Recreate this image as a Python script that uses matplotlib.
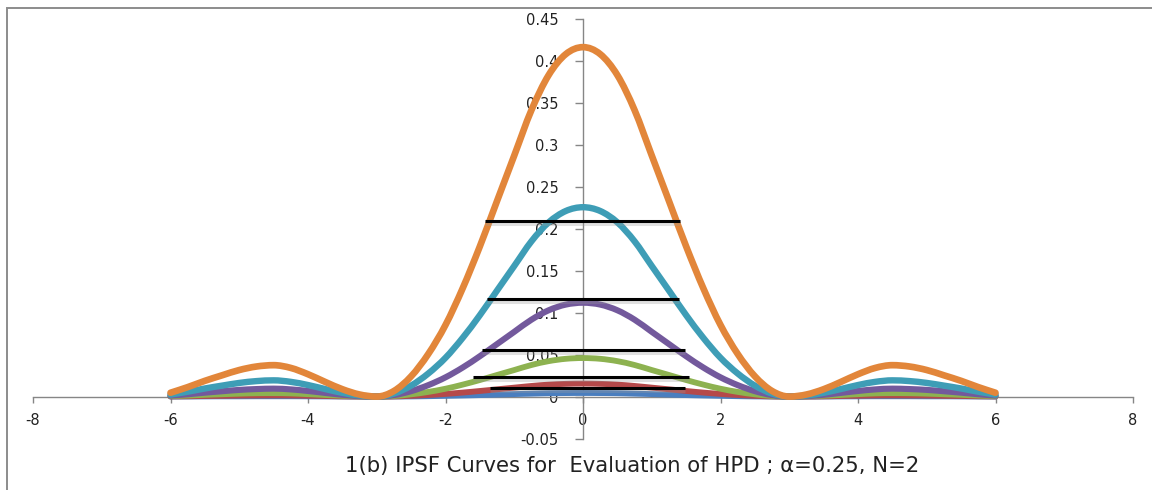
import numpy as np
import matplotlib
matplotlib.use("Agg")
import matplotlib.pyplot as plt
from matplotlib.path import Path
from matplotlib.patches import PathPatch, Rectangle
import matplotlib.patheffects as pe

# ---------------- data ----------------
x_vals = [-6, -5.75, -5.5, -5.25, -5, -4.75, -4.5, -4.25, -4, -3.75, -3.5, -3.25,
          -3, -2.75, -2.5, -2.25, -2, -1.75, -1.5, -1.25, -1, -0.75, -0.5, -0.25,
          0, 0.25, 0.5, 0.75, 1, 1.25, 1.5, 1.75, 2, 2.25, 2.5, 2.75,
          3, 3.25, 3.5, 3.75, 4, 4.25, 4.5, 4.75, 5, 5.25, 5.5, 5.75, 6]

blue = [0.0000, 0.0001, 0.0002, 0.0003, 0.0003, 0.0004, 0.0004, 0.0004, 0.0003, 0.0002, 0.0001, 0.0000,
        0, 0.0001, 0.0002, 0.0005, 0.0009, 0.0013, 0.0018, 0.0024, 0.0030, 0.0035, 0.0040, 0.0042,
        0.0043,
        0.0042, 0.0040, 0.0035, 0.0030, 0.0024, 0.0018, 0.0013, 0.0009, 0.0005, 0.0002, 0.0001, 0,
        0.0000, 0.0001, 0.0002, 0.0003, 0.0004, 0.0004, 0.0004, 0.0003, 0.0003, 0.0002, 0.0001, 0.0000]
red = [0.0002, 0.0004, 0.0007, 0.0009, 0.0012, 0.0013, 0.0014, 0.0013, 0.0010, 0.0007, 0.0003, 0.0001,
       0, 0.0002, 0.0009, 0.0019, 0.0032, 0.0048, 0.0067, 0.0087, 0.0107, 0.0127, 0.0143, 0.0152,
       0.0155,
       0.0152, 0.0143, 0.0127, 0.0107, 0.0087, 0.0067, 0.0048, 0.0032, 0.0019, 0.0009, 0.0002, 0,
       0.0001, 0.0003, 0.0007, 0.0010, 0.0013, 0.0014, 0.0013, 0.0012, 0.0009, 0.0007, 0.0004, 0.0002]
green = [0.0005, 0.0012, 0.0021, 0.0028, 0.0035, 0.0040, 0.0041, 0.0038, 0.0029, 0.0019, 0.0010, 0.0003,
         0, 0.0007, 0.0027, 0.0056, 0.0094, 0.0143, 0.0198, 0.0258, 0.0317, 0.0377, 0.0423, 0.0451,
         0.0460,
         0.0451, 0.0423, 0.0377, 0.0317, 0.0258, 0.0198, 0.0143, 0.0094, 0.0056, 0.0027, 0.0007, 0,
         0.0003, 0.0010, 0.0019, 0.0029, 0.0038, 0.0041, 0.0040, 0.0035, 0.0028, 0.0021, 0.0012, 0.0005]
purple = [0.0012, 0.0028, 0.0047, 0.0064, 0.0080, 0.0090, 0.0095, 0.0086, 0.0067, 0.0044, 0.0022, 0.0006,
          0, 0.0018, 0.0065, 0.0137, 0.0230, 0.0347, 0.0482, 0.0627, 0.0773, 0.0918, 0.1030, 0.1098,
          0.1120,
          0.1098, 0.1030, 0.0918, 0.0773, 0.0627, 0.0482, 0.0347, 0.0230, 0.0137, 0.0065, 0.0018, 0,
          0.0006, 0.0022, 0.0044, 0.0067, 0.0086, 0.0095, 0.0090, 0.0080, 0.0064, 0.0047, 0.0028, 0.0012]
teal = [0.0024, 0.0058, 0.0097, 0.0131, 0.0163, 0.0185, 0.0194, 0.0176, 0.0138, 0.0090, 0.0045, 0.0013,
        0, 0.0036, 0.0131, 0.0276, 0.0463, 0.0701, 0.0972, 0.1266, 0.1559, 0.1853, 0.2079, 0.2215,
        0.2260,
        0.2215, 0.2079, 0.1853, 0.1559, 0.1266, 0.0972, 0.0701, 0.0463, 0.0276, 0.0131, 0.0036, 0,
        0.0013, 0.0045, 0.0090, 0.0138, 0.0176, 0.0194, 0.0185, 0.0163, 0.0131, 0.0097, 0.0058, 0.0024]
orange = [0.0046, 0.0113, 0.0188, 0.0254, 0.0317, 0.0359, 0.0375, 0.0342, 0.0267, 0.0175, 0.0088, 0.0025,
          0, 0.0067, 0.0242, 0.0509, 0.0855, 0.1293, 0.1793, 0.2335, 0.2877, 0.3419, 0.3836, 0.4087,
          0.4170,
          0.4087, 0.3836, 0.3419, 0.2877, 0.2335, 0.1793, 0.1293, 0.0855, 0.0509, 0.0242, 0.0067, 0,
          0.0025, 0.0088, 0.0175, 0.0267, 0.0342, 0.0375, 0.0359, 0.0317, 0.0254, 0.0188, 0.0113, 0.0046]

# HPD horizontal lines
hpd_level = [0.2095, 0.1166, 0.0553, 0.0230, 0.0104]
hpd_left = [-1.43, -1.40, -1.47, -1.60, -1.35]
hpd_right = [1.41, 1.40, 1.48, 1.54, 1.48]

x_ticks = [-8, -6, -4, -2, 0, 2, 4, 6, 8]
y_ticks = [-0.05, 0, 0.05, 0.1, 0.15, 0.2, 0.25, 0.3, 0.35, 0.4, 0.45]
y_tick_labels = ["-0.05", "0", "0.05", "0.1", "0.15", "0.2", "0.25", "0.3", "0.35", "0.4", "0.45"]
title = "1(b) IPSF Curves for  Evaluation of HPD ; \u03b1=0.25, N=2"

series = [
    (blue, "#4A7EBF", 4.2),
    (red, "#B5494A", 4.2),
    (green, "#8DB250", 4.2),
    (purple, "#73599C", 4.4),
    (teal, "#3E9DB6", 4.6),
    (orange, "#E2863A", 4.8),
]

# ---------------- figure ----------------
W, H = 1152, 490
fig = plt.figure(figsize=(W / 100, H / 100), dpi=100)
fig.patch.set_facecolor("white")

# chart frame (Excel style, only left and top visible)
fig.patches.append(Rectangle((7 / W, -0.05), 1.2, (1 - 8.5 / H) + 0.05,
                             transform=fig.transFigure, fill=False,
                             edgecolor="#8C8C8C", linewidth=1.4, zorder=0))

ax = fig.add_axes([33 / W, (H - 438.5) / H, 1100 / W, 419 / H])
ax.set_xlim(-8, 8)
ax.set_ylim(-0.05, 0.45)
ax.patch.set_alpha(0)

for s in ["top", "right"]:
    ax.spines[s].set_visible(False)
ax.spines["left"].set_position(("data", 0))
ax.spines["bottom"].set_position(("data", 0))
for s in ["left", "bottom"]:
    ax.spines[s].set_color("#868686")
    ax.spines[s].set_linewidth(1.0)

ax.set_xticks(x_ticks)
ax.set_xticklabels([str(v) for v in x_ticks])
ax.set_yticks(y_ticks)
ax.set_yticklabels(y_tick_labels)
ax.tick_params(axis="x", direction="out", length=4, width=1, color="#868686",
               pad=8, labelsize=10.5, labelcolor="#222222")
ax.tick_params(axis="y", direction="out", length=5.5, width=1, color="#868686",
               pad=12, labelsize=10.5, labelcolor="#222222")


def smooth_patch(xs, ys, color, lw):
    xs = np.asarray(xs, float)
    ys = np.asarray(ys, float)
    n = len(xs)
    m = np.zeros(n)
    for i in range(n):
        if i == 0:
            m[i] = (ys[1] - ys[0]) / (xs[1] - xs[0])
        elif i == n - 1:
            m[i] = (ys[-1] - ys[-2]) / (xs[-1] - xs[-2])
        else:
            d1 = (ys[i] - ys[i - 1]) / (xs[i] - xs[i - 1])
            d2 = (ys[i + 1] - ys[i]) / (xs[i + 1] - xs[i])
            m[i] = 0.0 if d1 * d2 <= 0 else 0.5 * (d1 + d2)
    verts = [(xs[0], ys[0])]
    codes = [Path.MOVETO]
    for i in range(n - 1):
        h = xs[i + 1] - xs[i]
        verts += [(xs[i] + h / 3, ys[i] + m[i] * h / 3),
                  (xs[i + 1] - h / 3, ys[i + 1] - m[i + 1] * h / 3),
                  (xs[i + 1], ys[i + 1])]
        codes += [Path.CURVE4] * 3
    patch = PathPatch(Path(verts, codes), fill=False, edgecolor=color,
                      linewidth=lw, capstyle="round", joinstyle="round",
                      transform=ax.transData, zorder=3)
    ax.add_patch(patch)


for ys, col, lw in series:
    smooth_patch(x_vals, ys, col, lw)

for lvl, xl, xr in zip(hpd_level, hpd_left, hpd_right):
    ax.plot([xl, xr], [lvl, lvl], color="black", linewidth=2.2, solid_capstyle="butt",
            zorder=5,
            path_effects=[pe.SimpleLineShadow(offset=(0, -2), shadow_color="#9A9A9A", alpha=0.3),
                          pe.Normal()])

fig.text(632 / W, 1 - 466 / H, title, ha="center", va="center", fontsize=15.2,
         color="#222222")

fig.savefig("out.png", dpi=100)
